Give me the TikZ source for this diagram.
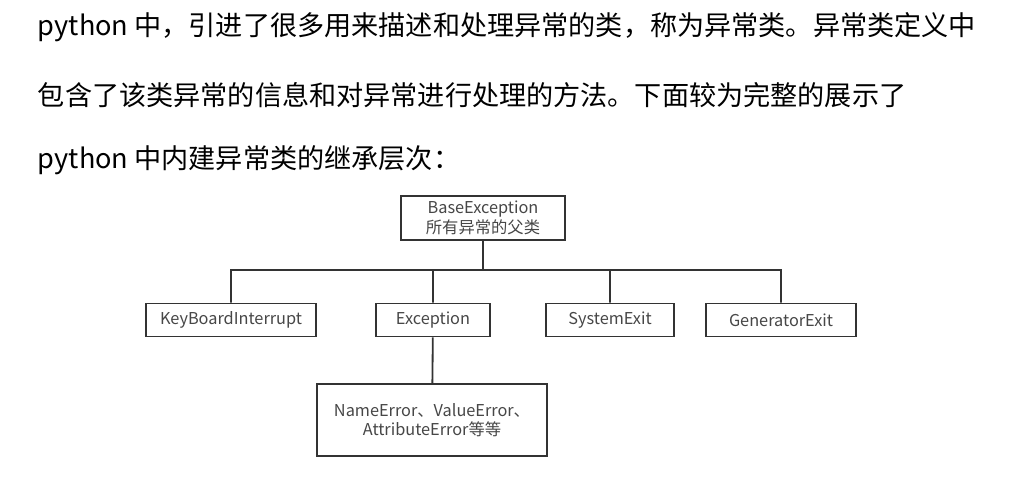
\documentclass[tikz,border=0pt]{standalone}
\usepackage{fontspec}
\setmainfont{Noto Sans CJK SC}
\usetikzlibrary{positioning}

\begin{document}
\begin{tikzpicture}[
  x=0.025cm, y=-0.025cm,
  line width=1.3pt,
  para/.style={anchor=west, inner sep=0pt, font=\fontsize{19.3}{22}\selectfont},
  cls/.style={draw=black!80, text=black!72, align=center, inner sep=0pt,
    font=\fontsize{11.6}{14}\selectfont, minimum height=0.825cm}
]
  \useasboundingbox[fill=white] (0,0) rectangle (1010,495);

  \node[para] (l1) at (37,27)  {python 中，引进了很多用来描述和处理异常的类，称为异常类。异常类定义中};
  \node[para] (l2) at (37,95)  {包含了该类异常的信息和对异常进行处理的方法。下面较为完整的展示了};
  \node[para] (l3) at (37,160) {python 中内建异常类的继承层次：};

  \node[cls,minimum width=4.1cm,minimum height=1.1cm] (base) at (483,218)
    {BaseException\\所有异常的父类};
  \node[cls,minimum width=4.25cm] (kbi)  at (231,320) {KeyBoardInterrupt};
  \node[cls,minimum width=2.85cm] (exc)  at (433,320) {Exception};
  \node[cls,minimum width=3.2cm]  (sysx) at (610,320) {SystemExit};
  \node[cls,minimum width=3.75cm] (gen)  at (781,320) {GeneratorExit};
  \node[cls,minimum width=5.75cm,minimum height=1.8cm] (errs) at (432,420)
    {NameError、ValueError、\\AttributeError等等};

  \coordinate (bus) at (483,270);

  \draw[black!80]
    (base) -- (bus)
    (kbi.north) |- (bus) -| (gen.north)
    (exc.north) -- (exc.north |- bus)
    (sysx.north) -- (sysx.north |- bus)
    (exc) -- (errs);
\end{tikzpicture}
\end{document}
